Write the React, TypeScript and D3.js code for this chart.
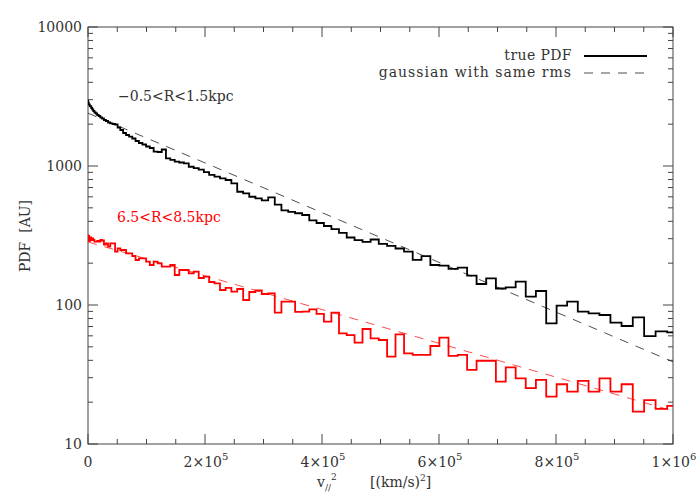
import React from 'react';
import * as d3 from 'd3';

// velocity bins (km/s); plotted at v^2
const velocityBins = [
  0, 10, 20, 30, 40, 50, 60, 70, 80, 90,
  100, 110, 120, 130, 140, 150, 160, 170, 180, 190,
  200, 210, 220, 230, 240, 250, 260, 270, 280, 290,
  300, 310, 320, 330, 340, 350, 360, 370, 380, 390,
  400, 410, 420, 430, 440, 450, 460, 470, 480, 490,
  500, 510, 520, 530, 540, 550, 560, 570, 580, 590,
  600, 610, 620, 630, 640, 650, 660, 670, 680, 690,
  700, 710, 720, 730, 740, 750, 760, 770, 780, 790,
  800, 810, 820, 830, 840, 850, 860, 870, 880, 890,
  900, 910, 920, 930, 940, 950, 960, 970, 980, 990,
  1000,
];

// true PDF, -0.5<R<1.5kpc
const pdfInner = [
  2900, 2950, 2840, 2870, 2780, 2770, 2702, 2680, 2614, 2550,
  2487, 2426, 2386, 2328, 2290, 2233, 2196, 2142, 2107, 2055,
  2029, 2005, 1989, 1892, 1816, 1728, 1671, 1625, 1577, 1513,
  1464, 1428, 1381, 1347, 1267, 1261, 1314, 1136, 1105, 1074,
  1060, 1045, 988, 967, 943, 905, 862, 838, 816, 793,
  751, 653, 636, 601, 584, 565, 594, 528, 479, 467,
  457, 444, 406, 389, 370, 352, 330, 306, 293, 285,
  296, 275, 266, 255, 242, 211, 225, 194, 192, 182,
  186, 162.5, 141.6, 155.6, 131.4, 134, 147.1, 114.7, 126.1, 73.8,
  98.9, 105.6, 89.5, 87.1, 84.7, 74.6, 70.6, 81.6, 59.8, 64.7,
  63.6,
];

// true PDF, 6.5<R<8.5kpc
const pdfOuter = [
  308.5, 293.5, 316.2, 298.4, 313.6, 288.7, 303.4, 305.9, 293.5, 300.9,
  293.5, 285.4, 285.4, 288.7, 285.4, 293.5, 291.1, 272.4, 277.9, 262.7,
  277.9, 277.9, 241.8, 255.8, 248.7, 248.7, 235.5, 235.5, 225.1, 210.7,
  216.8, 216.8, 204.9, 194, 204.9, 199.5, 188.6, 188.6, 194, 164.4,
  178.6, 178.6, 169.1, 173.6, 156.4, 159.8, 146.4, 143.3, 128.2, 132.6,
  124.6, 130.4, 108.6, 124, 127.2, 120, 121.4, 88.1, 105.6, 105.6,
  89.1, 89.5, 93.1, 86.2, 75.9, 88.1, 62.6, 60.8, 53.6, 67.2,
  57.6, 56, 42.5, 61.5, 44.9, 43.7, 43.7, 50.7, 58.2, 43,
  43.7, 34.1, 39.7, 39.7, 28.1, 35.6, 29.7, 25.2, 28.9, 21.9,
  26.9, 23.8, 28.5, 23.8, 29.7, 23.8, 26.9, 17.1, 20.7, 17.9,
  18.8,
];

// gaussian with same rms (straight line in log-y vs v^2): end points
const gaussX = [0, 1000000];
const gaussInner = [2400, 39];
const gaussOuter = [284, 17.3];

const yTickValues = [10, 100, 1000, 10000];
const xTickValues = [0, 200000, 400000, 600000, 800000, 1000000];
const legendLabels = ['true PDF', 'gaussian with same rms'];
const regionLabels = ['\u22120.5<R<1.5kpc', '6.5<R<8.5kpc'];

const FONT = 'DejaVu Serif';
const TEXT = '#333';
const AXIS = '#444';

export default function App() {
  const left = 88, right = 673, top = 27, bottom = 444;
  const x = d3.scaleLinear().domain([0, 1e6]).range([left, right]);
  const y = d3.scaleLog().domain([10, 10000]).range([bottom, top]);

  const step = d3.line<number>()
    .x((_, i) => x(velocityBins[i] * velocityBins[i]))
    .y((d) => y(d))
    .curve(d3.curveStep);
  const straight = d3.line<number>()
    .x((_, i) => x(gaussX[i]))
    .y((d) => y(d));

  const yMinor: number[] = [];
  [10, 100, 1000].forEach((d) => { for (let m = 2; m <= 9; m++) yMinor.push(d * m); });
  const xMinor = d3.range(0, 1e6 + 1, 5e4).filter((v) => v % 2e5 !== 0);

  const fmtX = (v: number) => {
    if (v === 0) return { m: '0', e: '' };
    const e = Math.floor(Math.log10(v) + 1e-9);
    const m = Math.round(v / Math.pow(10, e));
    return { m: `${m}\u00d710`, e: `${e}` };
  };

  return (
    <svg width={700} height={500} style={{ position: 'absolute', left: 0, top: 0, background: '#fff' }}
      fontFamily={FONT}>
      <defs>
        <clipPath id="plotclip">
          <rect x={left} y={top} width={right - left} height={bottom - top} />
        </clipPath>
      </defs>
      <rect x={0} y={0} width={700} height={500} fill="#fff" />

      {/* frame */}
      <rect x={left} y={top} width={right - left} height={bottom - top} fill="none" stroke={AXIS} strokeWidth={1} />

      {/* y ticks */}
      {yTickValues.map((v) => (
        <g key={'yt' + v}>
          <line x1={left} x2={left + 10} y1={y(v)} y2={y(v)} stroke={AXIS} />
          <line x1={right} x2={right - 10} y1={y(v)} y2={y(v)} stroke={AXIS} />
          <text x={82} y={y(v) + 5} textAnchor="end" fontSize={14} fill={TEXT}>{v}</text>
        </g>
      ))}
      {yMinor.map((v) => (
        <g key={'ym' + v}>
          <line x1={left} x2={left + 5} y1={y(v)} y2={y(v)} stroke={AXIS} />
          <line x1={right} x2={right - 5} y1={y(v)} y2={y(v)} stroke={AXIS} />
        </g>
      ))}

      {/* x ticks */}
      {xTickValues.map((v) => {
        const f = fmtX(v);
        return (
          <g key={'xt' + v}>
            <line x1={x(v)} x2={x(v)} y1={bottom} y2={bottom - 10} stroke={AXIS} />
            <line x1={x(v)} x2={x(v)} y1={top} y2={top + 10} stroke={AXIS} />
            <text x={x(v) + (f.e ? 1 : 0)} y={467} textAnchor="middle" fontSize={14} fill={TEXT}>
              {f.m}
              {f.e && <tspan dy={-7} fontSize={10}>{f.e}</tspan>}
            </text>
          </g>
        );
      })}
      {xMinor.map((v) => (
        <g key={'xm' + v}>
          <line x1={x(v)} x2={x(v)} y1={bottom} y2={bottom - 5} stroke={AXIS} />
          <line x1={x(v)} x2={x(v)} y1={top} y2={top + 5} stroke={AXIS} />
        </g>
      ))}

      {/* axis titles */}
      <text x={317} y={487} fontSize={14} fill={TEXT}>
        v<tspan dy={4} fontSize={9}>//</tspan><tspan dy={-11} fontSize={9}>2</tspan>
      </text>
      <text x={370} y={487} fontSize={14} fill={TEXT}>
        [(km/s)<tspan dy={-6} fontSize={9}>2</tspan><tspan dy={6}>]</tspan>
      </text>
      <text transform="translate(30,236) rotate(-90)" textAnchor="middle" fontSize={14} fill={TEXT}
        style={{ whiteSpace: 'pre' }}>
        {'PDF  [AU]'}
      </text>

      {/* data */}
      <g clipPath="url(#plotclip)">
        <path d={straight(gaussInner) || ''} fill="none" stroke="#222" strokeWidth={0.8} strokeDasharray="9 8" />
        <path d={straight(gaussOuter) || ''} fill="none" stroke="#ff2020" strokeWidth={0.8} strokeDasharray="9 8" />
        <path d={step(pdfInner) || ''} fill="none" stroke="#000" strokeWidth={1.8} />
        <path d={step(pdfOuter) || ''} fill="none" stroke="#ff0000" strokeWidth={1.8} />
      </g>

      {/* region labels */}
      <text x={118} y={101} fontSize={14} fill={TEXT}>{regionLabels[0]}</text>
      <text x={117} y={222} fontSize={14} fill="#ff0000">{regionLabels[1]}</text>

      {/* legend */}
      <text x={572} y={60} textAnchor="end" fontSize={14} fill={TEXT} letterSpacing={0.4}>{legendLabels[0]}</text>
      <line x1={584} x2={647} y1={56} y2={56} stroke="#000" strokeWidth={1.8} />
      <text x={572} y={77} textAnchor="end" fontSize={14} fill={TEXT} letterSpacing={1}>{legendLabels[1]}</text>
      <line x1={584} x2={647} y1={73} y2={73} stroke="#222" strokeWidth={0.8} strokeDasharray="9 8" />
    </svg>
  );
}
